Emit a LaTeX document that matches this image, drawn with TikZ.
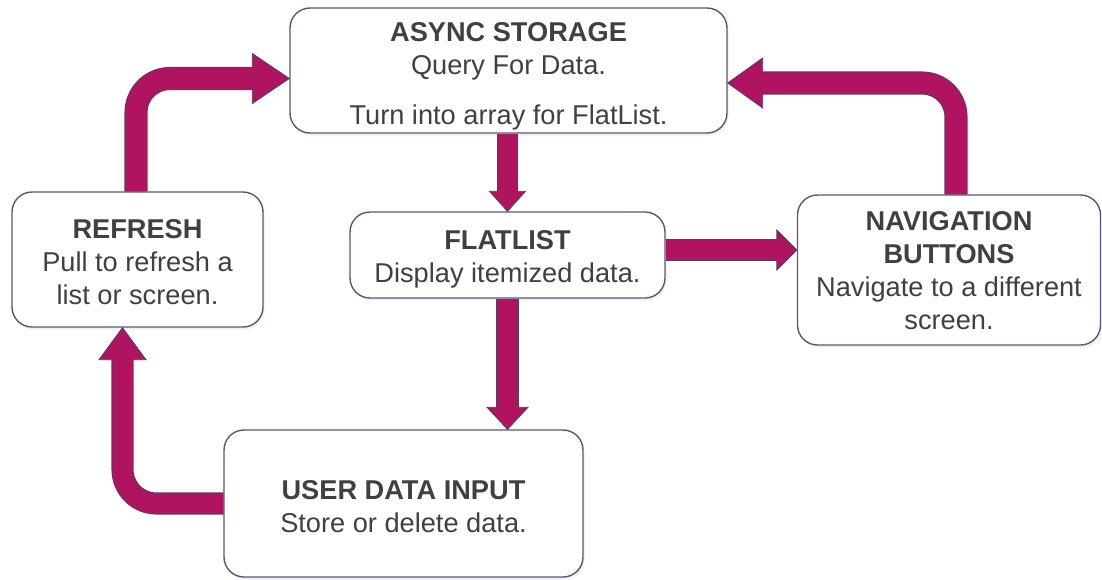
\documentclass[tikz,border=0pt]{standalone}
\usepackage{fontspec}
\setmainfont{Liberation Sans}
\usetikzlibrary{calc,shadows}
\definecolor{mag}{HTML}{B0135F}
\definecolor{outl}{HTML}{4E3F6A}
\definecolor{boxline}{HTML}{5C5577}
\definecolor{txt}{HTML}{404040}
\tikzset{
  box/.style={draw=boxline, line width=1.4pt, rounded corners=20pt, fill=white,
    align=center, text=txt, inner sep=0pt,
    font=\fontsize{27.2}{33}\selectfont,
    drop shadow={opacity=0.12, shadow xshift=1.5pt, shadow yshift=-2.5pt}},
  shaft/.style={draw=outl, line width=0.8pt, double=mag, rounded corners=34pt},
  headline/.style={draw=outl, line width=0.8pt, line join=miter},
}
\newcommand\myhead[5]{% tip, rotation, length, half width, shaft half width
  \begin{scope}[shift={(#1)}, rotate=#2]
    \fill[mag] (0,0) -- (-#3,-#4) -- (-#3,#4) -- cycle;
    \draw[headline] (-#3,-#5) -- (-#3,-#4) -- (0,0) -- (-#3,#4) -- (-#3,#5);
  \end{scope}}
\newcommand\topstrut[1]{\rule{0pt}{#1}}
\begin{document}
\begin{tikzpicture}[x=1pt,y=-1pt]
\useasboundingbox (0,0) rectangle (1102,579);
\node[box, minimum width=437pt, minimum height=125pt] (async) at (508.5,70.5)
  {\topstrut{30pt}\textbf{ASYNC STORAGE}\\Query For Data.\\[17pt]Turn into array for FlatList.};
\node[box, minimum width=251pt, minimum height=135pt] (refresh) at (137.5,259.5)
  {\topstrut{24pt}\textbf{REFRESH}\\Pull to refresh a\\list or screen.};
\node[box, minimum width=315pt, minimum height=86pt] (flat) at (507.5,255)
  {\topstrut{27pt}\textbf{FLATLIST}\\Display itemized data.};
\node[box, minimum width=303pt, minimum height=150pt] (nav) at (949,270)
  {\topstrut{20pt}\textbf{NAVIGATION}\\\textbf{BUTTONS}\\Navigate to a different\\screen.};
\node[box, minimum width=359pt, minimum height=147pt] (user) at (403.5,503.5)
  {\topstrut{26pt}\textbf{USER DATA INPUT}\\Store or delete data.};

% refresh -> async
\coordinate (t1) at ($(async.west)+(0,8)$);
\draw[shaft, double distance=21.5pt] ($(refresh.north)+(-1.5,0)$) |- ($(t1)+(-35,0)$);
\myhead{t1}{0}{37}{25}{11.5}
% nav -> async
\coordinate (t2) at ($(async.east)+(0,12.5)$);
\draw[shaft, double distance=21.5pt] ($(nav.north)+(7,0)$) |- ($(t2)+(33,0)$);
\myhead{t2}{180}{35}{25}{11.5}
% async -> flat
\coordinate (t3) at (flat.north);
\draw[shaft, double distance=18.5pt] (async.south -| t3) -- ($(t3)+(0,-19)$);
\myhead{t3}{-90}{20}{18}{10}
% flat -> nav
\coordinate (t4) at ($(nav.west)+(0,-20)$);
\draw[shaft, double distance=19.5pt] (flat.east |- t4) -- ($(t4)+(-19,0)$);
\myhead{t4}{0}{20}{20}{10.5}
% flat -> user
\coordinate (t5) at (flat.south |- user.north);
\draw[shaft, double distance=20.5pt] (flat.south) -- ($(t5)+(0,-21)$);
\myhead{t5}{-90}{22}{20.5}{11}
% user -> refresh
\coordinate (t6) at ($(refresh.south)+(-15,0)$);
\draw[shaft, double distance=20.5pt] (user.west) -| ($(t6)+(0,31)$);
\myhead{t6}{90}{32}{23.5}{11}
\end{tikzpicture}
\end{document}
